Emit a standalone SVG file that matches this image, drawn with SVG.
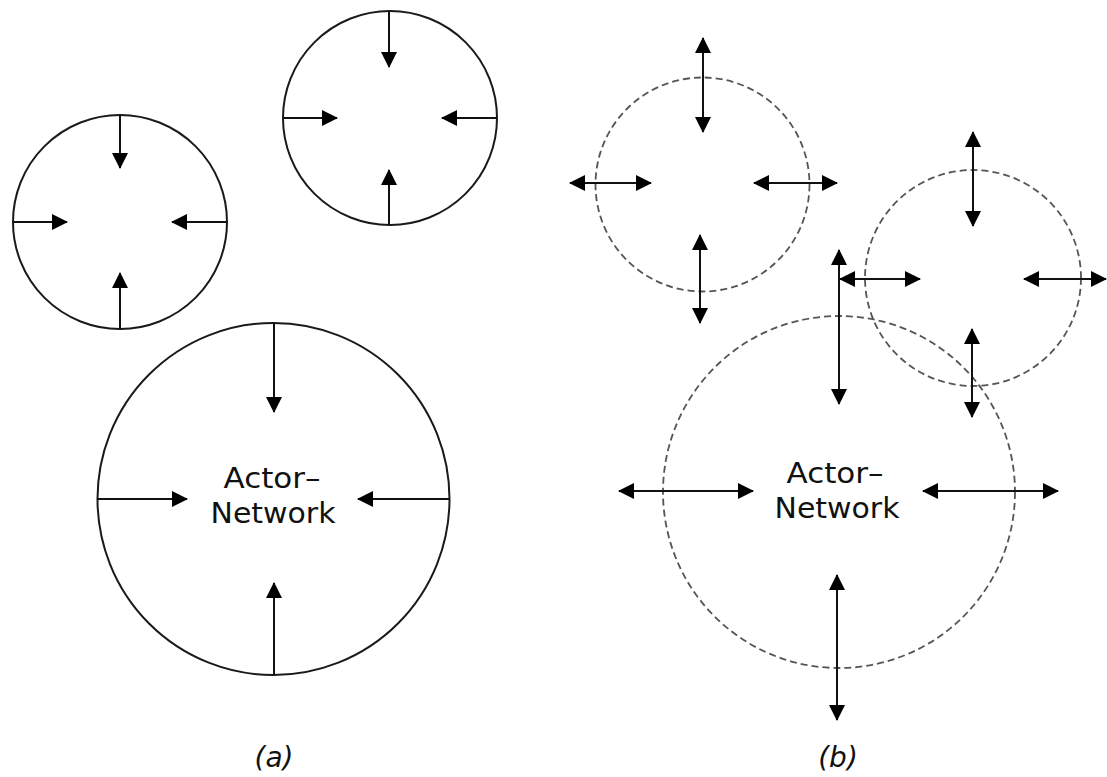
<svg xmlns="http://www.w3.org/2000/svg" width="1107" height="777" viewBox="0 0 1107 777">
<style>
.solid{fill:none;stroke:#1a1a1a;stroke-width:2}
.dash{fill:none;stroke:#555;stroke-width:1.8;stroke-dasharray:7 4}
.one{stroke:#111;stroke-width:2;marker-end:url(#ah)}
.two{stroke:#111;stroke-width:2;marker-start:url(#ah);marker-end:url(#ah)}
.lbl{font-family:"DejaVu Sans","Open Sans",sans-serif;font-size:28px;fill:#111;text-anchor:middle}
.cap{font-family:"DejaVu Sans","Open Sans",sans-serif;font-size:28px;font-style:italic;fill:#111;text-anchor:middle}
</style>
<defs>
<marker id="ah" viewBox="0 0 16 16" refX="15" refY="8" markerWidth="16" markerHeight="16" markerUnits="userSpaceOnUse" orient="auto-start-reverse">
<path d="M0,0 L16,8 L0,16 z" fill="#000"/>
</marker>
</defs>
<rect width="1107" height="777" fill="#fff"/>
<g id="a-small-left"><circle class="solid" cx="120" cy="222" r="107"/></g>
<g id="a-small-top"><circle class="solid" cx="390" cy="118" r="107"/></g>
<g id="a-actor-network"><circle class="solid" cx="273.5" cy="499" r="176"/>
<text class="lbl" x="272" y="488" textLength="97" lengthAdjust="spacingAndGlyphs">Actor–</text><text class="lbl" x="273" y="523" textLength="125" lengthAdjust="spacingAndGlyphs">Network</text></g>
<g id="b-small-left"><circle class="dash" cx="702.5" cy="184.5" r="107"/></g>
<g id="b-small-right"><circle class="dash" cx="973" cy="278" r="108"/></g>
<g id="b-actor-network"><circle class="dash" cx="839" cy="492" r="176"/>
<text class="lbl" x="835" y="483" textLength="97" lengthAdjust="spacingAndGlyphs">Actor–</text><text class="lbl" x="837" y="518" textLength="125" lengthAdjust="spacingAndGlyphs">Network</text></g>
<g id="connectors">
<line class="one" x1="120" y1="115" x2="120" y2="168"/>
<line class="one" x1="13" y1="222" x2="67" y2="222"/>
<line class="one" x1="227" y1="222" x2="172" y2="222"/>
<line class="one" x1="120" y1="329" x2="120" y2="273"/>
<line class="one" x1="389" y1="11" x2="389" y2="67"/>
<line class="one" x1="283" y1="118" x2="337" y2="118"/>
<line class="one" x1="497" y1="118" x2="442" y2="118"/>
<line class="one" x1="389" y1="225" x2="389" y2="170"/>
<line class="one" x1="274" y1="323" x2="274" y2="412"/>
<line class="one" x1="97" y1="499" x2="187" y2="499"/>
<line class="one" x1="450" y1="499" x2="358" y2="499"/>
<line class="one" x1="274" y1="675" x2="274" y2="583"/>
<line class="two" x1="703" y1="38" x2="703" y2="132"/>
<line class="two" x1="570" y1="183" x2="651" y2="183"/>
<line class="two" x1="754" y1="183" x2="837" y2="183"/>
<line class="two" x1="700" y1="235" x2="700" y2="323"/>
<line class="two" x1="973" y1="132" x2="973" y2="226"/>
<line class="two" x1="840" y1="279" x2="920" y2="279"/>
<line class="two" x1="1024" y1="279" x2="1106" y2="279"/>
<line class="two" x1="972" y1="329" x2="972" y2="417"/>
<line class="two" x1="839" y1="250" x2="839" y2="404"/>
<line class="two" x1="619" y1="491" x2="753" y2="491"/>
<line class="two" x1="923" y1="491" x2="1058" y2="491"/>
<line class="two" x1="837" y1="575" x2="837" y2="720"/>
</g>
<text class="cap" x="274" y="767">(a)</text>
<text class="cap" x="838" y="767">(b)</text>
</svg>
